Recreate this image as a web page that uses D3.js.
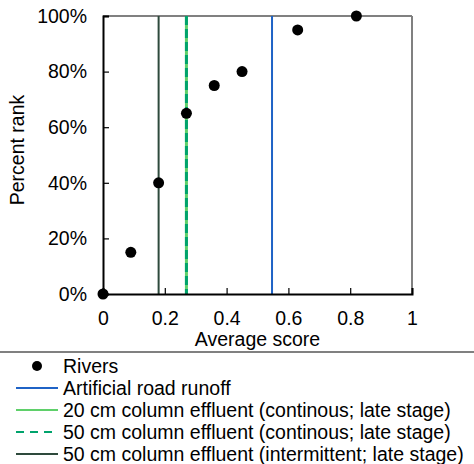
<!DOCTYPE html>
<html>
<head>
<meta charset="utf-8">
<script src="https://cdn.jsdelivr.net/npm/d3@7"></script>
<style>
  html, body { margin: 0; padding: 0; background: #fff; }
  svg { display: block; font-family: "Liberation Sans", Arial, sans-serif; }
</style>
</head>
<body>
<svg id="chart" width="474" height="464"></svg>
<script>
// Rivers: average score vs percent rank
const riverScores = [0, 0.09, 0.18, 0.27, 0.36, 0.45, 0.63, 0.82];
const riverRanks = [0, 0.15, 0.40, 0.65, 0.75, 0.80, 0.95, 1.00];

// reference lines (vertical)
const refNames = [
  'Artificial road runoff',
  '20 cm column effluent (continous; late stage)',
  '50 cm column effluent (continous; late stage)',
  '50 cm column effluent (intermittent; late stage)',
];
const refScores = [0.547, 0.27, 0.27, 0.18];
const refColors = ['#1f63c6', '#5fd06a', '#00a36c', '#2e4a3c'];
const refDash = [null, null, '9,4', null];
const refWidth = [2, 3, 3, 2];

const xTicks = [0, 0.2, 0.4, 0.6, 0.8, 1];
const yTicks = [0, 0.2, 0.4, 0.6, 0.8, 1];

const FS = '19.5px';
const svg = d3.select('#chart');
const margin = { top: 16, left: 103, right: 62, bottom: 170 };
const W = 474, H = 464;
const width = W - margin.left - margin.right;
const height = H - margin.top - margin.bottom;

const x = d3.scaleLinear().domain([0, 1]).range([0, width]);
const y = d3.scaleLinear().domain([0, 1]).range([height, 0]);

const g = svg.append('g').attr('transform', `translate(${margin.left},${margin.top})`);

// frame: top/right gray
g.append('line').attr('x1', 0).attr('x2', width).attr('y1', 0).attr('y2', 0)
  .attr('stroke', '#808080').attr('stroke-width', 2);
g.append('line').attr('x1', width).attr('x2', width).attr('y1', 0).attr('y2', height)
  .attr('stroke', '#808080').attr('stroke-width', 2);

// reference lines
refScores.forEach((s, i) => {
  g.append('line')
    .attr('x1', x(s)).attr('x2', x(s)).attr('y1', 0).attr('y2', height)
    .attr('stroke', refColors[i]).attr('stroke-width', refWidth[i])
    .attr('stroke-dasharray', refDash[i]);
});

// axes with inward ticks
const xAxis = g.append('g').attr('transform', `translate(0,${height})`)
  .call(d3.axisBottom(x).tickValues(xTicks).tickSize(-6).tickPadding(17)
    .tickFormat(d => d3.format('')(d)));
const yAxis = g.append('g')
  .call(d3.axisLeft(y).tickValues(yTicks).tickSize(-6).tickPadding(16)
    .tickFormat(d3.format('.0%')));
[xAxis, yAxis].forEach(a => {
  a.select('.domain').attr('stroke', '#000').attr('stroke-width', 2);
  a.selectAll('.tick line').attr('stroke', '#000').attr('stroke-width', 1.2);
  a.selectAll('text').attr('fill', '#000').style('font-size', FS)
    .style('font-family', '"Liberation Sans", Arial, sans-serif');
});

// points
g.selectAll('.pt').data(riverScores).enter().append('circle')
  .attr('cx', d => x(d)).attr('cy', (d, i) => y(riverRanks[i]))
  .attr('r', 5.5).attr('fill', '#000');

// axis titles
g.append('text').attr('x', width / 2).attr('y', height + 52)
  .attr('text-anchor', 'middle').style('font-size', FS).text('Average score');
g.append('text').attr('transform', 'rotate(-90)')
  .attr('x', -(150 - margin.top)).attr('y', -79)
  .attr('text-anchor', 'middle').style('font-size', FS).text('Percent rank');

// legend
svg.append('line').attr('x1', 0).attr('x2', W).attr('y1', 352).attr('y2', 352)
  .attr('stroke', '#808080').attr('stroke-width', 2);

const legend = svg.append('g');
const rowY = [366, 388, 410, 432, 454];
legend.append('circle').attr('cx', 37).attr('cy', rowY[0]).attr('r', 5).attr('fill', '#000');
legend.append('text').attr('x', 63).attr('y', rowY[0]).attr('dy', '0.35em')
  .style('font-size', FS).text('Rivers');
refNames.forEach((name, i) => {
  const yy = rowY[i + 1];
  legend.append('line').attr('x1', 16).attr('x2', 58).attr('y1', yy).attr('y2', yy)
    .attr('stroke', refColors[i]).attr('stroke-width', 2)
    .attr('stroke-dasharray', refDash[i] ? '8,6' : null);
  legend.append('text').attr('x', 63).attr('y', yy).attr('dy', '0.35em')
    .style('font-size', FS).text(name);
});
</script>
</body>
</html>
